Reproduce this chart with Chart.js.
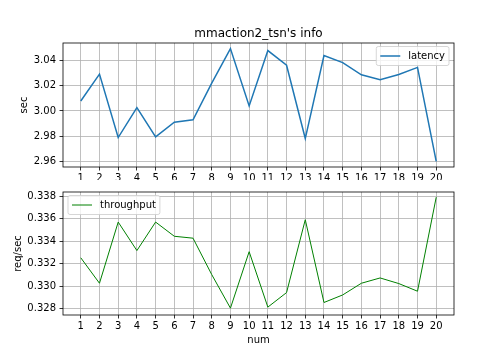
<!DOCTYPE html>
<html>
<head>
<meta charset="utf-8">
<script src="https://cdn.jsdelivr.net/npm/chart.js@4.4.1/dist/chart.umd.min.js"></script>
<style>
html,body{margin:0;padding:0;background:#fff;}
#wrap{position:relative;width:504px;height:360px;}
canvas{position:absolute;left:0;top:0;}
</style>
</head>
<body>
<div id="wrap">
<canvas id="c1" width="504" height="360"></canvas>
<canvas id="c2" width="504" height="360"></canvas>
</div>
<script>
const chartTitle = "mmaction2_tsn's info";
const nums = [1,2,3,4,5,6,7,8,9,10,11,12,13,14,15,16,17,18,19,20];
const latency = [3.0079,3.0293,2.9789,3.0026,2.9795,2.9911,2.9930,3.0221,3.0496,3.0040,3.0480,3.0363,2.9781,3.0440,3.0384,3.0287,3.0248,3.0290,3.0346,2.9600];
const throughput = [0.33253,0.33027,0.33570,0.33317,0.33570,0.33444,0.33427,0.33104,0.32806,0.33307,0.32815,0.32944,0.33591,0.32856,0.32923,0.33027,0.33074,0.33024,0.32956,0.33791];
const latencyTicks = [2.96,2.98,3.00,3.02,3.04];
const throughputTicks = [0.328,0.330,0.332,0.334,0.336,0.338];
const FONT = "'DejaVu Sans', sans-serif";

function framePlugin(legendLabel, color, lw, corner, title) {
  return {
    id: 'frame',
    afterDraw(chart) {
      const {ctx, chartArea: a} = chart;
      ctx.save();
      ctx.strokeStyle = '#000';
      ctx.lineWidth = 0.8;
      ctx.strokeRect(a.left, a.top, a.right - a.left, a.bottom - a.top);
      // legend
      ctx.font = '10px ' + FONT;
      const tw = ctx.measureText(legendLabel).width;
      const w = 4 + 20 + 8 + tw + 4, h = 19;
      const x = corner === 'right' ? a.right - 5 - w : a.left + 5;
      const y = a.top + 3.5;
      ctx.beginPath();
      if (ctx.roundRect) ctx.roundRect(x, y, w, h, 2); else ctx.rect(x, y, w, h);
      ctx.fillStyle = 'rgba(255,255,255,0.8)';
      ctx.fill();
      ctx.strokeStyle = 'rgba(204,204,204,0.8)';
      ctx.lineWidth = 1;
      ctx.stroke();
      ctx.beginPath();
      ctx.moveTo(x + 4, y + h / 2);
      ctx.lineTo(x + 24, y + h / 2);
      ctx.strokeStyle = color;
      ctx.lineWidth = lw;
      ctx.stroke();
      ctx.fillStyle = '#000';
      ctx.textBaseline = 'middle';
      ctx.textAlign = 'left';
      ctx.fillText(legendLabel, x + 32, y + h / 2);
      if (title) {
        ctx.font = '12px ' + FONT;
        ctx.textAlign = 'center';
        ctx.textBaseline = 'alphabetic';
        ctx.fillText(title, (a.left + a.right) / 2, a.top - 6);
      }
      ctx.restore();
    }
  };
}

function makeChart(id, values, color, lw, yTicks, yMin, yMax, digits, yTitle, yTitlePad, legendLabel, corner, title, padTop, padBottom, xAxisH, xTitle) {
  return new Chart(document.getElementById(id), {
    type: 'line',
    data: {
      datasets: [{
        label: legendLabel,
        data: nums.map((n, i) => ({x: n, y: values[i]})),
        borderColor: color,
        borderWidth: lw,
        pointRadius: 0,
        fill: false,
        tension: 0
      }]
    },
    options: {
      responsive: false,
      animation: false,
      events: [],
      layout: {padding: {left: 0, right: 50, top: padTop, bottom: padBottom}},
      plugins: {legend: {display: false}, title: {display: false}, tooltip: {enabled: false}},
      scales: {
        x: {
          type: 'linear', min: 0.05, max: 20.95,
          afterBuildTicks: s => { s.ticks = nums.map(v => ({value: v})); },
          afterFit: s => { s.height = xAxisH; },
          ticks: {color: '#000', font: {family: FONT, size: 10}, padding: 2, maxRotation: 0, autoSkip: false, callback: v => String(v)},
          grid: {color: '#b0b0b0', lineWidth: 0.8, tickColor: '#000', tickLength: 3.5, tickWidth: 0.8},
          border: {display: false},
          title: {display: !!xTitle, text: xTitle || '', color: '#000', font: {family: FONT, size: 10}, padding: {top: 0, bottom: 14}}
        },
        y: {
          type: 'linear', min: yMin, max: yMax,
          afterBuildTicks: s => { s.ticks = yTicks.map(v => ({value: v})); },
          afterFit: s => { s.width = 63; },
          ticks: {color: '#000', font: {family: FONT, size: 10}, padding: 3.5, callback: v => Number(v).toFixed(digits)},
          grid: {color: '#b0b0b0', lineWidth: 0.8, tickColor: '#000', tickLength: 3.5, tickWidth: 0.8},
          border: {display: false},
          title: {display: true, text: yTitle, color: '#000', font: {family: FONT, size: 10}, padding: {top: yTitlePad, bottom: 0}}
        }
      }
    },
    plugins: [framePlugin(legendLabel, color, lw, corner, title)]
  });
}

makeChart('c1', latency, '#1f77b4', 1.5, latencyTicks, 2.9555, 3.054, 2, 'sec', 18, 'latency', 'right', chartTitle, 43, 180, 13, null);
makeChart('c2', throughput, 'green', 1, throughputTicks, 0.32745, 0.33837, 3, 'req/sec', 12, 'throughput', 'left', null, 192, 0, 45, 'num');
</script>
</body>
</html>
